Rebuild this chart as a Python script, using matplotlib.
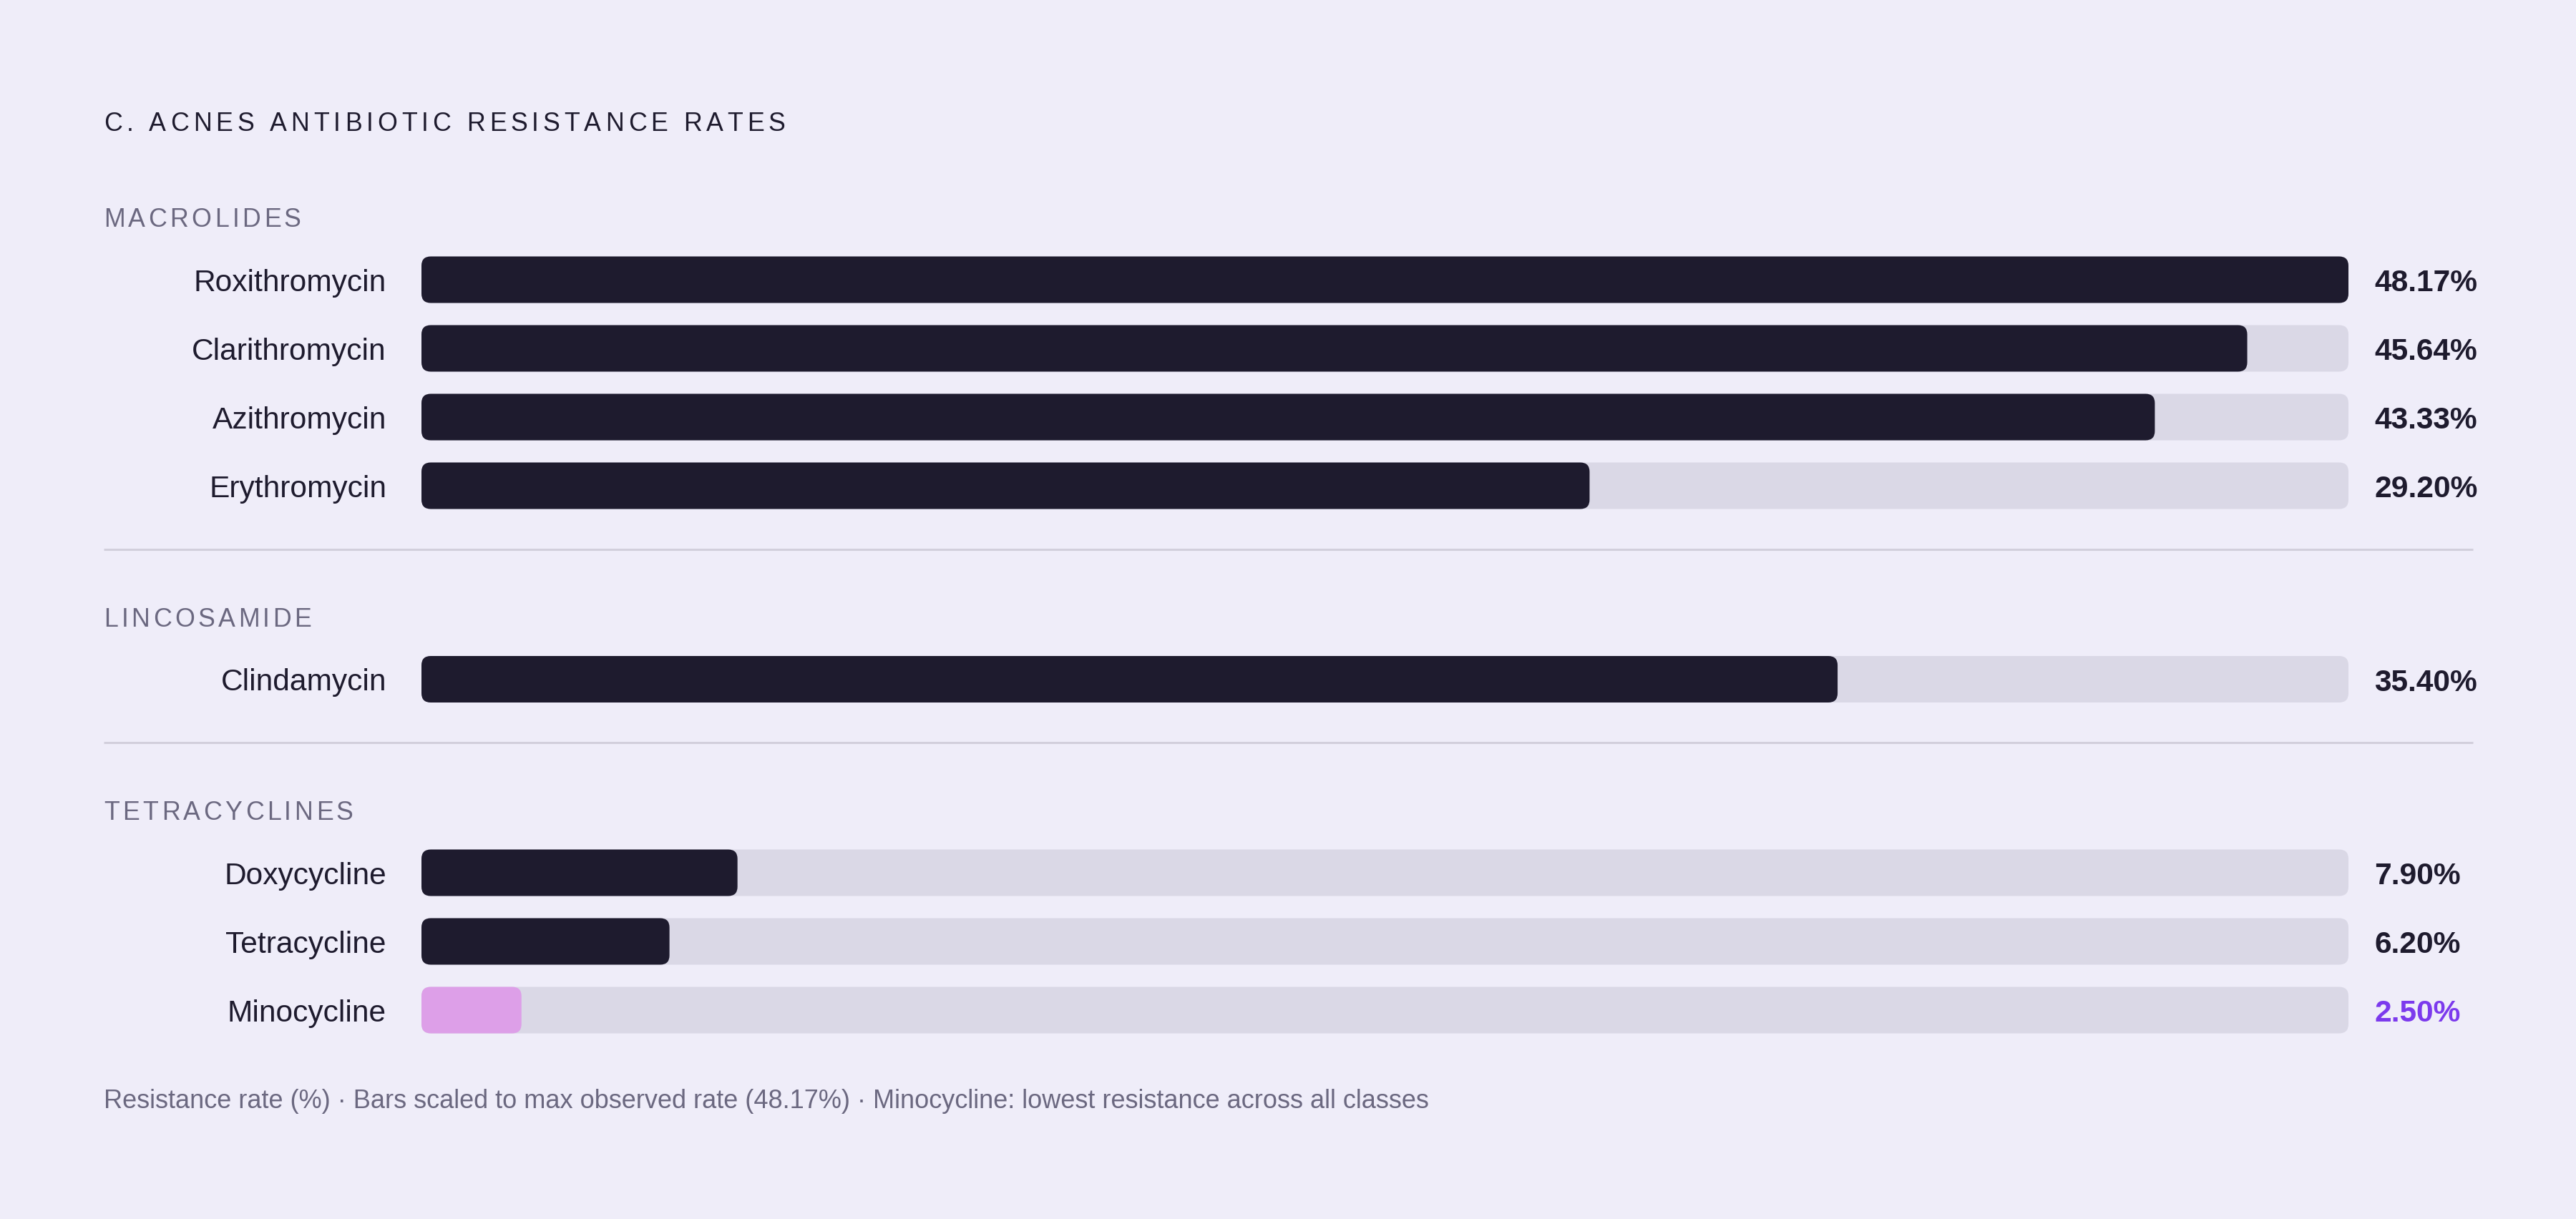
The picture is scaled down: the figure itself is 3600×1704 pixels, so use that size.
import matplotlib
matplotlib.use("Agg")
import matplotlib.pyplot as plt
from matplotlib.patches import FancyBboxPatch

# data
groups = ["MACROLIDES", "LINCOSAMIDE", "TETRACYCLINES"]
drugs = ["Roxithromycin", "Clarithromycin", "Azithromycin", "Erythromycin",
         "Clindamycin",
         "Doxycycline", "Tetracycline", "Minocycline"]
rates = [48.17, 45.64, 43.33, 29.20, 35.40, 7.90, 6.20, 2.50]
drug_group = [0, 0, 0, 0, 1, 2, 2, 2]
title = "C. ACNES ANTIBIOTIC RESISTANCE RATES"

# colours
BG = "#efedf9"
DARK = "#1e1b2e"
TRACK = "#dad8e6"
GREY = "#6b6880"
RULE = "#d2cfdc"
PINK = "#dd9fe8"
PURPLE = "#7c3aed"

plt.rcParams["font.family"] = ["Liberation Sans", "DejaVu Sans"]

W, H = 3600, 1704
DPI = 200
fig = plt.figure(figsize=(W / DPI, H / DPI), dpi=DPI, facecolor=BG)
ax = fig.add_axes([0, 0, 1, 1])
ax.set_xlim(0, W)
ax.set_ylim(H, 0)
ax.axis("off")

# layout in pixels
LEFT = 145
LABEL_X = 540
TRACK_X0, TRACK_X1 = 589, 3282
VALUE_X = 3318
RULE_X1 = 3456
BAR_H = 65
RADIUS = 13
PITCH = 96

max_rate = max(rates)
low = rates.index(min(rates))

bx = fig.add_axes([TRACK_X0 / W, 0, (TRACK_X1 - TRACK_X0) / W, 1])
bx.set_xlim(0, max_rate)
bx.set_ylim(H, 0)
bx.axis("off")
xpx = (TRACK_X1 - TRACK_X0) / max_rate

renderer = fig.canvas.get_renderer()


def text_w(s, **kw):
    t = ax.text(0, 0, s, **kw)
    w = t.get_window_extent(renderer=renderer).width
    t.remove()
    return w


def spaced(x, y, s, spacing, **kw):
    sp = text_w("a a", **kw) - text_w("aa", **kw)
    for ch in s:
        if ch == " ":
            x += sp + spacing
            continue
        t = ax.text(x, y, ch, ha="left", va="baseline", **kw)
        x += t.get_window_extent(renderer=renderer).width + spacing


def rounded(yc, w, color):
    r = min(RADIUS / xpx, w / 2)
    bx.add_patch(FancyBboxPatch((0, yc - BAR_H / 2), w, BAR_H,
                                boxstyle=f"round,pad=0,rounding_size={r}",
                                mutation_aspect=xpx, fc=color, ec="none"))


spaced(LEFT, 183, title, 5.9, fontsize=12.9, color=DARK)

y = 317
for g, name in enumerate(groups):
    if g > 0:
        ax.plot([LEFT, RULE_X1], [y, y], color=RULE, lw=1.1, solid_capstyle="butt")
        y += 108
    spaced(LEFT, y, name, 4.4, fontsize=12.9, color=GREY)
    yc = y + 74
    for i, d in enumerate(drugs):
        if drug_group[i] != g:
            continue
        rounded(yc, max_rate, TRACK)
        rounded(yc, rates[i], PINK if i == low else DARK)
        ax.text(LABEL_X, yc + 16, d, ha="right", va="baseline", fontsize=15.3, color=DARK)
        ax.text(VALUE_X, yc + 16, f"{rates[i]:.2f}%", ha="left", va="baseline",
                fontsize=15.3, fontweight="bold", color=PURPLE if i == low else DARK)
        yc += PITCH
    y = yc - PITCH + 88.5

footer = (f"Resistance rate (%) · Bars scaled to max observed rate ({max_rate:.2f}%) · "
          f"{drugs[low]}: lowest resistance across all classes")
ax.text(LEFT, 1549, footer, ha="left", va="baseline", fontsize=13.0, color=GREY)

fig.savefig("out.png", dpi=DPI, facecolor=BG)
